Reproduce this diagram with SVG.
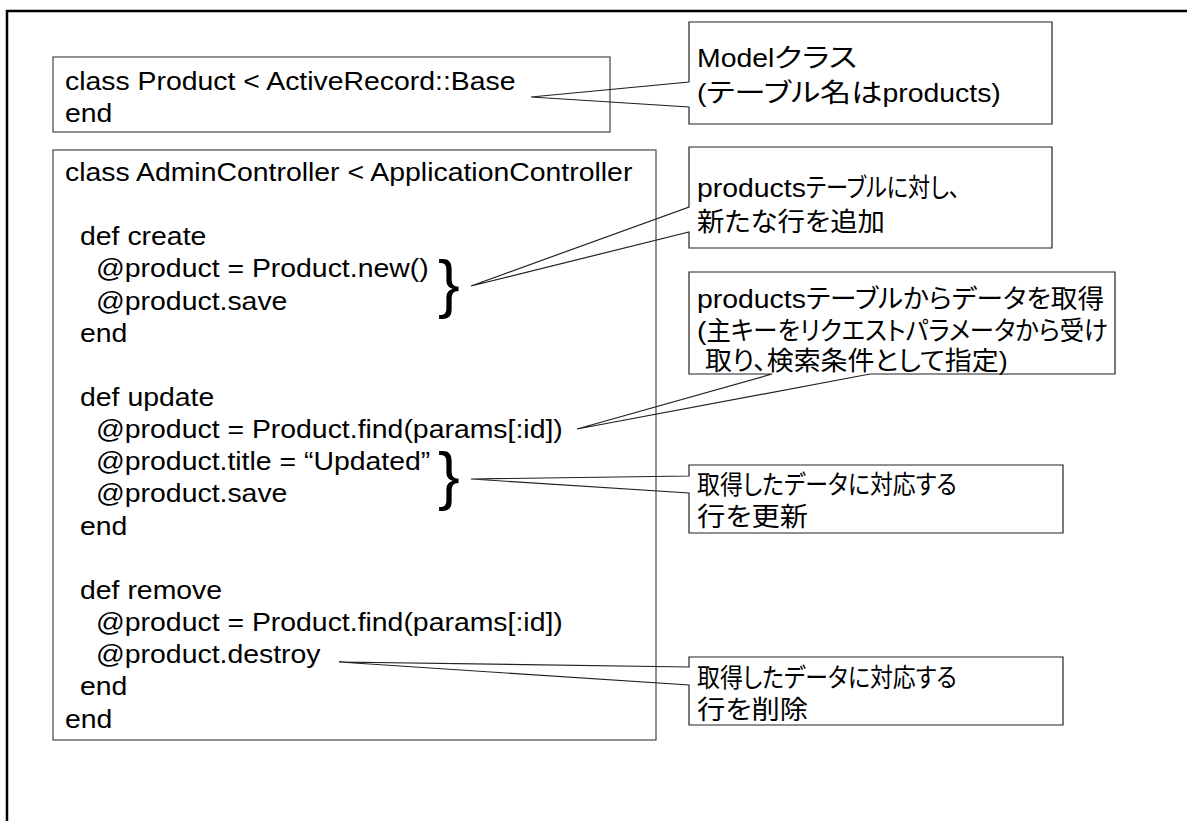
<svg xmlns="http://www.w3.org/2000/svg" width="1187" height="821" viewBox="0 0 1187 821">
  <style>
    .frame { fill: none; stroke: #000; stroke-width: 2.5; }
    .code-box { fill: #fff; stroke: #555; stroke-width: 1.3; }
    .callout { fill: none; stroke: #222; stroke-width: 1.2; }
    .t { font-family: "Liberation Sans", "Noto Sans CJK JP", sans-serif; font-size: 26.2px; fill: #000; }
    .jp { font-feature-settings: "palt"; }
    .brace { font-family: "Liberation Sans", sans-serif; font-size: 65px; fill: #000; }
  </style>

  <rect width="1187" height="821" fill="#fff"/>
  <rect class="frame" x="7" y="11" width="1200" height="900"/>

  <!-- Model class -->
  <g id="product-class">
    <rect class="code-box" x="53" y="57" width="557" height="75"/>
    <g transform="scale(1.0845 1)">
      <text class="t" x="59.9" y="90">class Product &lt; ActiveRecord::Base</text>
      <text class="t" x="59.9" y="122">end</text>
    </g>
  </g>

  <!-- Controller -->
  <g id="admin-controller">
    <rect class="code-box" x="53" y="150" width="603" height="590"/>
    <g transform="scale(1.0845 1)">
      <text class="t" x="59.9" y="181">class AdminController &lt; ApplicationController</text>
      <text class="t" x="73.8" y="245.3">def create</text>
      <text class="t" x="88.5" y="277.5">@product = Product.new()</text>
      <text class="t" x="88.5" y="309.6">@product.save</text>
      <text class="t" x="73.8" y="341.8">end</text>
      <text class="t" x="73.8" y="406.1">def update</text>
      <text class="t" x="88.5" y="438.2">@product = Product.find(params[:id])</text>
      <text class="t" x="88.5" y="470.4">@product.title = “Updated”</text>
      <text class="t" x="88.5" y="502.5">@product.save</text>
      <text class="t" x="73.8" y="534.7">end</text>
      <text class="t" x="73.8" y="599">def remove</text>
      <text class="t" x="88.5" y="631.1">@product = Product.find(params[:id])</text>
      <text class="t" x="88.5" y="663.3">@product.destroy</text>
      <text class="t" x="73.8" y="695.4">end</text>
      <text class="t" x="59.9" y="727.6">end</text>
    </g>
    <text class="brace" x="438" y="306">}</text>
    <text class="brace" x="438" y="498">}</text>
  </g>

  <!-- Callout outlines with their pointers -->
  <g id="connectors">
    <path class="callout" d="M689,22 H1052 V124 H689 V107 L531,97 L689,82 Z"/>
    <path class="callout" d="M689,147 H1052 V248 H689 V232 L471,286 L689,207 Z"/>
    <path class="callout" d="M689,272 H1115 V374 H870 L577,429 L772,374 H689 Z"/>
    <path class="callout" d="M689,465 H1063 V533 H689 V493 L471,479 L689,476 Z"/>
    <path class="callout" d="M689,657 H1063 V725 H689 V685 L339,662 L689,667 Z"/>
  </g>

  <!-- Notes: Latin runs at natural width, Japanese runs set to proportional widths -->
  <g id="note-model" transform="scale(1.0845 1)">
    <text class="t jp" x="642.7" y="67">Model<tspan x="713.7" textLength="76.5" lengthAdjust="spacingAndGlyphs">クラス</tspan></text>
    <text class="t jp" x="642.7" y="102">(<tspan x="651.4" textLength="162.3" lengthAdjust="spacingAndGlyphs">テーブル名は</tspan><tspan x="813.7">products)</tspan></text>
  </g>
  <g id="note-create" transform="scale(1.0845 1)">
    <text class="t jp" x="642.7" y="197">products<tspan x="743.2" textLength="142" lengthAdjust="spacingAndGlyphs">テーブルに対し、</tspan></text>
    <text class="t jp" x="642.7" y="231" textLength="173.4" lengthAdjust="spacingAndGlyphs">新たな行を追加</text>
  </g>
  <g id="note-find" transform="scale(1.0845 1)">
    <text class="t jp" x="642.7" y="308">products<tspan x="743.2" textLength="274.8" lengthAdjust="spacingAndGlyphs">テーブルからデータを取得</tspan></text>
    <text class="t jp" x="642.7" y="340">(<tspan x="651.4" textLength="370.2" lengthAdjust="spacingAndGlyphs">主キーをリクエストパラメータから受け</tspan></text>
    <text class="t jp" x="650.1" y="370" textLength="279" lengthAdjust="spacingAndGlyphs">取り、検索条件として指定)</text>
  </g>
  <g id="note-update" transform="scale(1.0845 1)">
    <text class="t jp" x="642.7" y="494" textLength="239.7" lengthAdjust="spacingAndGlyphs">取得したデータに対応する</text>
    <text class="t jp" x="642.7" y="526" textLength="102.4" lengthAdjust="spacingAndGlyphs">行を更新</text>
  </g>
  <g id="note-destroy" transform="scale(1.0845 1)">
    <text class="t jp" x="642.7" y="687" textLength="239.7" lengthAdjust="spacingAndGlyphs">取得したデータに対応する</text>
    <text class="t jp" x="642.7" y="719" textLength="102.4" lengthAdjust="spacingAndGlyphs">行を削除</text>
  </g>
</svg>
